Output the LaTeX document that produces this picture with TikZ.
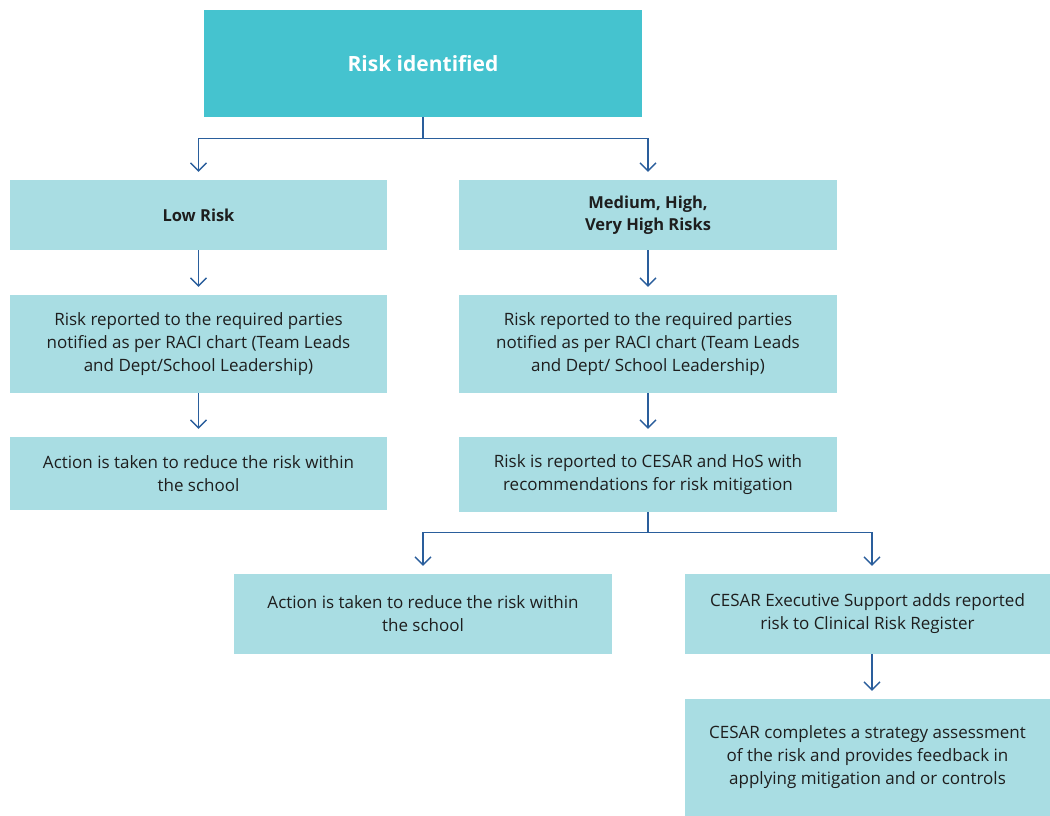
\documentclass[tikz,border=0pt]{standalone}
\usepackage{fontspec}
\setmainfont{Open Sans}
\usetikzlibrary{arrows.meta}
\definecolor{topc}{HTML}{45C3CF}
\definecolor{boxc}{HTML}{A9DDE3}
\definecolor{linec}{HTML}{2A5E9C}
\definecolor{txt}{HTML}{1E1E1E}
\tikzset{
  box/.style={fill=boxc, draw=none, inner sep=0pt, align=center, text=txt,
    font=\fontsize{17pt}{23pt}\selectfont},
  boldbox/.style={box, font=\fontsize{16.5pt}{22pt}\selectfont\bfseries},
  topbox/.style={fill=topc, draw=none, inner sep=0pt, text=white,
    font=\fontsize{21pt}{25pt}\selectfont\bfseries},
  arr/.style={draw=linec, line width=1.3pt,
    -{Straight Barb[length=8pt,width=16pt,line width=1.3pt]}, shorten >=8pt}
}
\begin{document}
\begin{tikzpicture}[x=1pt,y=-1pt]
\useasboundingbox (0,0) rectangle (1050,816);
\node[topbox, minimum width=438pt, minimum height=107pt] (top) at (423,63.5) {Risk identified};
\node[boldbox, minimum width=377pt, minimum height=70pt] (low) at (198.5,215) {Low Risk};
\node[boldbox, minimum width=378pt, minimum height=70pt] (med) at (648,215) {Medium, High,\\Very High Risks};
\node[box, minimum width=377pt, minimum height=98pt] (lrep) at (198.5,344) {Risk reported to the required parties\\notified as per RACI chart (Team Leads\\and Dept/School Leadership)};
\node[box, minimum width=378pt, minimum height=98pt] (mrep) at (648,344) {Risk reported to the required parties\\notified as per RACI chart (Team Leads\\and Dept/ School Leadership)};
\node[box, minimum width=377pt, minimum height=73pt] (lact) at (198.5,473.5) {Action is taken to reduce the risk within\\the school};
\node[box, minimum width=378pt, minimum height=75pt] (mces) at (648,474.5) {Risk is reported to CESAR and HoS with\\recommendations for risk mitigation};
\node[box, minimum width=378pt, minimum height=80pt] (act2) at (423,614) {Action is taken to reduce the risk within\\the school};
\node[box, minimum width=365pt, minimum height=80pt] (exec) at (867.5,614) {CESAR Executive Support adds reported\\risk to Clinical Risk Register};
\node[box, minimum width=365pt, minimum height=117pt] (strat) at (867.5,757.5) {CESAR completes a strategy assessment\\of the risk and provides feedback in\\applying mitigation and or controls};
\coordinate (execin) at ([xshift=4.5pt]exec.north);
\coordinate (execout) at ([xshift=4.5pt]exec.south);
\draw[arr] (top.south) -- ++(0,21) -| (low.north);
\draw[arr] (top.south) -- ++(0,21) -| (med.north);
\draw[arr] (low.south) -- (lrep.north);
\draw[arr] (med.south) -- (mrep.north);
\draw[arr] (lrep.south) -- (lact.north);
\draw[arr] (mrep.south) -- (mces.north);
\draw[arr] (mces.south) -- ++(0,20) -| (act2.north);
\draw[arr] (mces.south) -- ++(0,20) -| (execin);
\draw[arr] (execout) -- (execout |- strat.north);
\end{tikzpicture}
\end{document}
